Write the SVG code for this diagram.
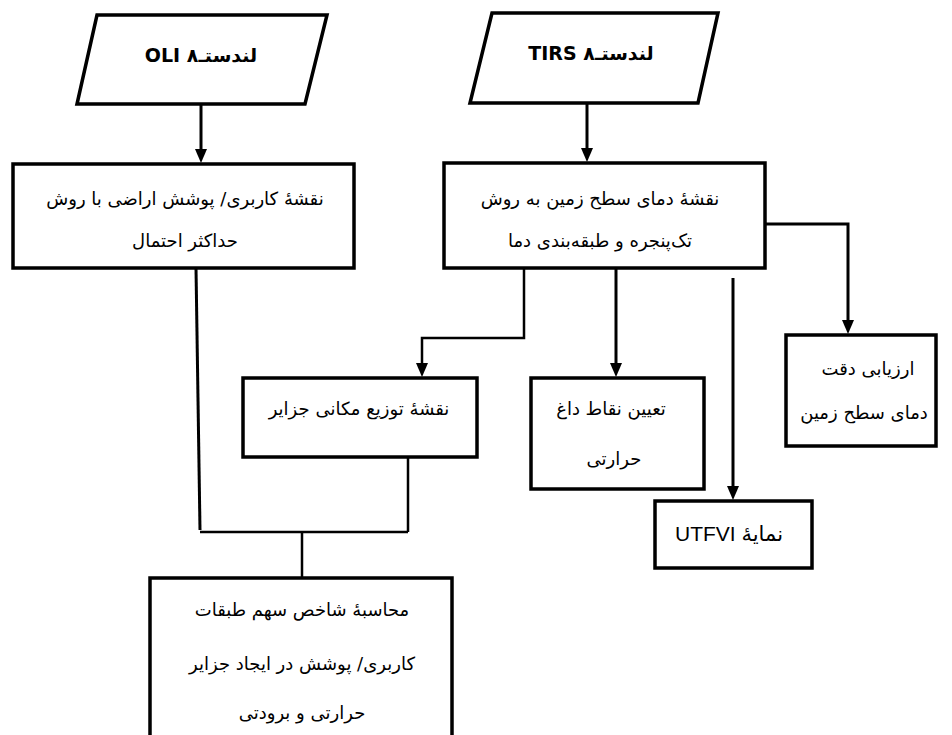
<svg xmlns="http://www.w3.org/2000/svg" width="952" height="735" viewBox="0 0 952 735">
<defs>
<style>
.box{fill:#fff;stroke:#000;stroke-width:3.5}
.c{fill:none;stroke:#000;stroke-width:3}
.ct{fill:none;stroke:#000;stroke-width:2.5}
.t{font-family:"DejaVu Sans","Noto Sans",sans-serif;font-size:18px;fill:#000;text-anchor:middle;direction:rtl}
.h{font-family:"DejaVu Sans","Noto Sans",sans-serif;font-size:19px;font-weight:bold;fill:#000;text-anchor:middle;direction:rtl}
.u{font-family:"Liberation Sans","DejaVu Sans",sans-serif;font-size:21px;fill:#000;text-anchor:middle;direction:rtl}
</style>
</defs>
<rect width="952" height="735" fill="#fff"/>
<g id="connectors">
<path class="c" d="M201,104 V150" />
<path d="M195,149 L207,149 L201,163 Z" fill="#000"/>
<path class="c" d="M587,103 V149" />
<path d="M581,148 L593,148 L587,162 Z" fill="#000"/>
<path class="c" d="M765,224 H848 V321" />
<path d="M842,320 L854,320 L848,334 Z" fill="#000"/>
<path class="c" d="M616,268 V364" />
<path d="M610,363 L622,363 L616,377 Z" fill="#000"/>
<path class="ct" d="M524,268 V338 H422 V364" />
<path d="M416,363 L428,363 L422,377 Z" fill="#000"/>
<path class="c" d="M733,278 V487" />
<path d="M727,486 L739,486 L733,500 Z" fill="#000"/>
<path class="c" d="M196,268 L200,530" />
<path class="ct" d="M200,532 H408 M408,457 V532 M302,532 V578" />
</g>
<g id="n-oli">
<polygon class="box" points="97,15 327,15 305,104 77,104"/>
<text class="h" x="201" y="62">لندستـ٨ OLI</text>
</g>
<g id="n-tirs">
<polygon class="box" points="492,13 718,13 698,103 470,103"/>
<text class="h" x="591" y="60">لندستـ٨ TIRS</text>
</g>
<g id="n-lulc">
<rect class="box" x="13" y="164" width="341" height="104"/>
<text class="t" x="185" y="205">نقشهٔ کاربری/ پوشش اراضی با روش</text>
<text class="t" x="185" y="247">حداکثر احتمال</text>
</g>
<g id="n-lst">
<rect class="box" x="444" y="163" width="321" height="105"/>
<text class="t" x="600" y="205">نقشهٔ دمای سطح زمین به روش</text>
<text class="t" x="600" y="247">تک‌پنجره و طبقه‌بندی دما</text>
</g>
<g id="n-islands">
<rect class="box" x="243" y="378" width="234" height="79"/>
<text class="t" x="359" y="415">نقشهٔ توزیع مکانی جزایر</text>
</g>
<g id="n-hotspots">
<rect class="box" x="531" y="378" width="173" height="111"/>
<text class="t" x="611" y="415">تعیین نقاط داغ</text>
<text class="t" x="614" y="465">حرارتی</text>
</g>
<g id="n-accuracy">
<rect class="box" x="786" y="335" width="150" height="111"/>
<text class="t" x="868" y="375">ارزیابی دقت</text>
<text class="t" x="864" y="419">دمای سطح زمین</text>
</g>
<g id="n-utfvi">
<rect class="box" x="655" y="501" width="157" height="67"/>
<text class="u" x="729" y="541">نمایهٔ UTFVI</text>
</g>
<g id="n-index">
<rect class="box" x="150" y="578" width="302" height="170"/>
<text class="t" x="302" y="616">محاسبهٔ شاخص سهم طبقات</text>
<text class="t" x="302" y="670">کاربری/ پوشش در ایجاد جزایر</text>
<text class="t" x="302" y="719">حرارتی و برودتی</text>
</g>
</svg>
